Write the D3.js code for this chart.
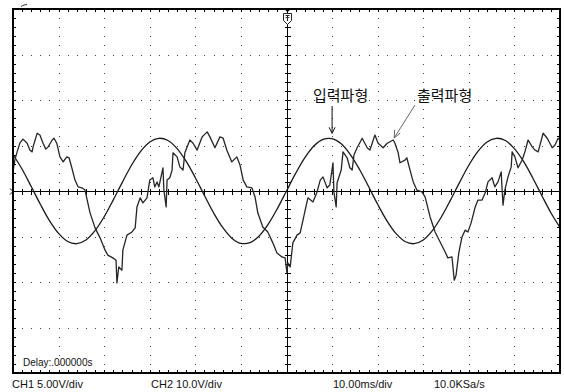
<!DOCTYPE html>
<html>
<head>
<meta charset="utf-8">
<script src="https://cdn.jsdelivr.net/npm/d3@7"></script>
<style>
  html, body { margin: 0; padding: 0; background: #fff; }
  svg { display: block; }
  .lbl { font-family: "Liberation Sans", Arial, sans-serif; fill: #111; }
  .kr { font-family: "Noto Sans CJK KR", sans-serif; fill: #111; }
</style>
</head>
<body>
<svg id="scope" width="564" height="392"></svg>
<script>
// Channel 1 (input): sample times in ms and voltages
const ch1Time = [-60,-58,-56,-54,-52,-50,-48,-46,-44,-42,-40,-38,-36,-34,-32,-30,-28,-26,-24,-22,-20,
  -18,-16,-14,-12,-10,-8,-6,-4,-2,0,2,4,6,8,10,12,14,16,18,20,22,24,26,28,30,32,34,36,38,40,42,44,46,
  48,50,52,54,56,58,60];
const ch1Volts = [4.01,2.39,0.49,-1.46,-3.25,-4.66,-5.55,-5.79,-5.38,-4.35,-2.83,-0.98,0.98,2.83,4.35,
  5.38,5.79,5.55,4.66,3.25,1.46,-0.49,-2.39,-4.01,-5.18,-5.75,-5.67,-4.94,-3.64,-1.93,0,1.93,3.64,4.94,
  5.67,5.75,5.18,4.01,2.39,0.49,-1.46,-3.25,-4.66,-5.55,-5.79,-5.38,-4.35,-2.83,-0.98,0.98,2.83,4.35,
  5.38,5.79,5.55,4.66,3.25,1.46,-0.49,-2.39,-4.01];

// Channel 2 (output): sample times in ms and voltages
const ch2Time = [-60.0,-59.6,-59.1,-58.5,-57.8,-56.9,-56.3,-55.8,-55.6,-54.7,-54.1,-53.4,-52.8,-52.3,
  -51.4,-51.0,-50.4,-49.7,-49.0,-48.2,-47.7,-47.1,-46.4,-45.7,-44.9,-44.2,-43.1,-42.0,-40.9,-39.8,-39.2,
  -38.1,-37.4,-37.2,-36.8,-36.1,-35.9,-35.0,-33.9,-33.2,-32.8,-32.1,-31.5,-30.6,-30.0,-29.3,-28.9,-28.4,
  -28.0,-27.1,-26.9,-26.4,-26.2,-25.6,-25.1,-24.9,-24.0,-23.4,-22.7,-22.3,-21.2,-20.5,-19.6,-18.5,-17.4,
  -16.8,-15.7,-14.6,-13.9,-13.1,-12.0,-10.9,-10.2,-9.5,-8.7,-7.6,-6.9,-6.3,-5.2,-4.1,-3.0,-2.1,-1.0,-0.3,
  0.1,0.3,0.8,1.4,2.3,3.0,4.1,4.7,5.8,6.7,7.4,8.0,8.9,9.5,10.2,10.4,10.9,11.1,12.0,12.4,13.3,13.9,14.4,
  14.8,15.5,16.6,17.7,18.3,19.4,20.1,21.2,22.1,23.4,23.8,24.5,24.9,26.0,26.4,27.1,27.8,28.6,29.7,30.4,
  31.5,32.6,33.7,34.8,35.4,36.3,36.8,37.2,37.8,38.5,39.2,39.8,40.5,41.4,42.0,42.9,43.6,44.2,45.1,45.7,
  46.4,47.1,47.3,47.5,47.9,48.6,49.3,49.5,50.1,50.8,51.7,52.3,53.0,53.9,54.5,55.2,56.3,57.2,58.3,58.9,
  59.6,60.0];
const ch2Volts = [4.2,6.8,8.6,10.5,11.4,10.5,9.0,8.6,9.7,12.7,12.3,10.5,9.2,9.7,
  11.2,11.6,10.5,7.5,6.4,7.5,7.3,5.1,2.4,0.9,0.7,0.2,-4.8,-8.1,-10.3,-13.0,-14.1,
  -14.7,-15.2,-20.2,-16.7,-17.4,-13.0,-9.7,-9.0,-8.1,-3.5,-1.5,-2.6,-1.5,2.4,2.9,0.9,2.0,
  0.9,5.1,0.2,-3.5,2.4,2.9,4.6,8.4,7.5,5.3,4.6,8.4,11.2,10.5,9.0,11.9,13.0,
  11.9,9.5,11.9,11.6,9.0,6.4,7.5,5.7,2.4,0.9,0.7,-1.3,-4.8,-7.9,-9.0,-11.4,-13.6,-14.5,-14.7,
  -18.0,-15.8,-16.7,-11.4,-9.7,-9.2,-4.2,-1.5,-2.4,-0.2,2.4,3.1,0.7,1.3,6.2,-0.2,-3.5,1.8,4.6,8.6,7.3,5.1,4.6,
  7.9,9.5,11.6,9.5,9.0,12.3,10.5,9.5,10.5,11.2,10.5,8.4,6.2,6.8,7.3,4.6,2.0,0.2,-0.2,-1.3,
  -5.7,-9.0,-11.2,-13.4,-14.7,-14.5,-19.6,-18.5,-13.6,-10.1,-8.6,-9.0,-7.0,-3.5,-2.0,-2.0,-0.4,2.0,2.9,0.9,
  2.0,4.2,0.2,-3.1,0.2,3.1,5.3,8.6,7.5,5.1,6.8,8.6,11.2,9.7,9.0,8.6,12.7,11.6,9.5,10.1,
  11.6,11.2];

// Instrument settings shown on the readout line
const readouts = ["CH1 5.00V/div", "CH2 10.0V/div", "10.00ms/div", "10.0KSa/s"];
const delayText = "Delay:.000000s";
const labels = ["입력파형", "출력파형"];
const ch1VoltsPerDiv = 5, ch2VoltsPerDiv = 10, msPerDiv = 10;

const svg = d3.select("#scope");
const X0 = 13, X1 = 560, Y0 = 9, Y1 = 373;
const x = d3.scaleLinear().domain([-6 * msPerDiv, 6 * msPerDiv]).range([X0, X1]);
const yDiv = d3.scaleLinear().domain([-4, 4]).range([Y1, Y0]);
const y1 = d3.scaleLinear().domain([-4 * ch1VoltsPerDiv, 4 * ch1VoltsPerDiv]).range([Y1, Y0]);
const y2 = d3.scaleLinear().domain([-4 * ch2VoltsPerDiv, 4 * ch2VoltsPerDiv]).range([Y1, Y0]);

const minorT = d3.range(-60, 60.001, 2);
const minorD = d3.range(-4, 4.001, 0.2);
const majorT = d3.range(-50, 51, 10).filter(d => d !== 0);
const majorD = [-3, -2, -1, 1, 2, 3];

// dotted graticule
const dots = svg.append("g").attr("fill", "#444");
majorD.forEach(d => {
  minorT.forEach(t => dots.append("rect").attr("x", Math.round(x(t))).attr("y", Math.round(yDiv(d)))
    .attr("width", 1).attr("height", 1));
});
majorT.forEach(t => {
  minorD.forEach(d => dots.append("rect").attr("x", Math.round(x(t))).attr("y", Math.round(yDiv(d)))
    .attr("width", 1).attr("height", 1));
});

// centre axes with minor ticks
const ax = svg.append("g").attr("stroke", "#000").attr("stroke-width", 1).attr("shape-rendering", "crispEdges");
const cx = Math.round(x(0)) + 0.5, cy = Math.round(yDiv(0)) + 0.5;
ax.append("line").attr("x1", X0).attr("x2", X1).attr("y1", cy).attr("y2", cy);
ax.append("line").attr("x1", cx).attr("x2", cx).attr("y1", Y0).attr("y2", Y1);
minorT.forEach(t => {
  const px = Math.round(x(t)) + 0.5;
  ax.append("line").attr("x1", px).attr("x2", px).attr("y1", cy - 3).attr("y2", cy + 3);
  ax.append("line").attr("x1", px).attr("x2", px).attr("y1", Y0).attr("y2", Y0 + 3);
  ax.append("line").attr("x1", px).attr("x2", px).attr("y1", Y1 - 3).attr("y2", Y1);
});
minorD.forEach(d => {
  const py = Math.round(yDiv(d)) + 0.5;
  ax.append("line").attr("x1", cx - 3).attr("x2", cx + 3).attr("y1", py).attr("y2", py);
  ax.append("line").attr("x1", X0).attr("x2", X0 + 3).attr("y1", py).attr("y2", py);
  ax.append("line").attr("x1", X1 - 3).attr("x2", X1).attr("y1", py).attr("y2", py);
});

// waveforms
const line1 = d3.line().x((d, i) => x(ch1Time[i])).y(d => y1(d)).curve(d3.curveCatmullRom);
const line2 = d3.line().x((d, i) => x(ch2Time[i])).y(d => y2(d));
svg.append("path").attr("d", line1(ch1Volts)).attr("fill", "none")
  .attr("stroke", "#1a1a1a").attr("stroke-width", 1.3);
svg.append("path").attr("d", line2(ch2Volts)).attr("fill", "none")
  .attr("stroke", "#262626").attr("stroke-width", 1.3).attr("stroke-linejoin", "round");

// frame
svg.append("rect").attr("x", X0).attr("y", Y0).attr("width", X1 - X0).attr("height", Y1 - Y0)
  .attr("fill", "none").attr("stroke", "#000").attr("stroke-width", 2);

// trigger position marker at the top and ground marker on the left
const mx = Math.round(x(0));
svg.append("path").attr("d", `M${mx - 3},9 L${mx + 4},9 L${mx + 0.5},12 Z`).attr("fill", "#000");
svg.append("path").attr("d", `M${mx - 3.5},13.5 H${mx + 4.5} V20.5 L${mx + 0.5},24.5 L${mx - 3.5},20.5 Z`)
  .attr("fill", "#fff").attr("stroke", "#222").attr("stroke-width", 1);
svg.append("path").attr("d", `M${mx - 1.5},15.5 H${mx + 2.5} M${mx + 0.5},15.5 V21`)
  .attr("stroke", "#222").attr("stroke-width", 1).attr("fill", "none");
svg.append("path").attr("d", `M${mx - 1.5},17.5 H${mx + 2.5}`).attr("stroke", "#222").attr("stroke-width", 0.8);
svg.append("path").attr("d", `M${X0 - 3},${cy - 3} L${X0},${cy} L${X0 - 3},${cy + 3}`)
  .attr("stroke", "#000").attr("fill", "none").attr("stroke-width", 1);
svg.append("path").attr("d", "M21,6.5 L24,5 L27,4.5").attr("stroke", "#333").attr("fill", "none").attr("stroke-width", 1);

// annotations
svg.append("text").attr("class", "kr").attr("x", 313).attr("y", 101).attr("font-size", 15).text(labels[0]);
svg.append("text").attr("class", "kr").attr("x", 417).attr("y", 101).attr("font-size", 15).text(labels[1]);
const peakT = 10;
const ax1 = x(peakT), ay1 = y1(d3.max(ch1Volts)) - 5;
svg.append("line").attr("x1", ax1).attr("x2", ax1).attr("y1", 106).attr("y2", ay1).attr("stroke", "#111");
svg.append("path").attr("d", `M${ax1 - 3},${ay1 - 6} L${ax1},${ay1} L${ax1 + 3},${ay1 - 6}`)
  .attr("stroke", "#111").attr("fill", "none");
const bx = x(23.4) + 1, by = y2(11.2) - 2;
svg.append("line").attr("x1", 415).attr("y1", 105).attr("x2", bx).attr("y2", by).attr("stroke", "#666");
svg.append("path").attr("d", `M${bx + 0.5},${by - 8} L${bx},${by} L${bx + 6},${by - 5}`)
  .attr("stroke", "#666").attr("fill", "none");

// readouts
svg.append("text").attr("class", "lbl").attr("x", 23).attr("y", 366).attr("font-size", 10).text(delayText);
const readX = [12, 151, 333, 434];
readouts.forEach((s, i) => svg.append("text").attr("class", "lbl").attr("x", readX[i]).attr("y", 388)
  .attr("font-size", 11).text(s));
</script>
</body>
</html>
